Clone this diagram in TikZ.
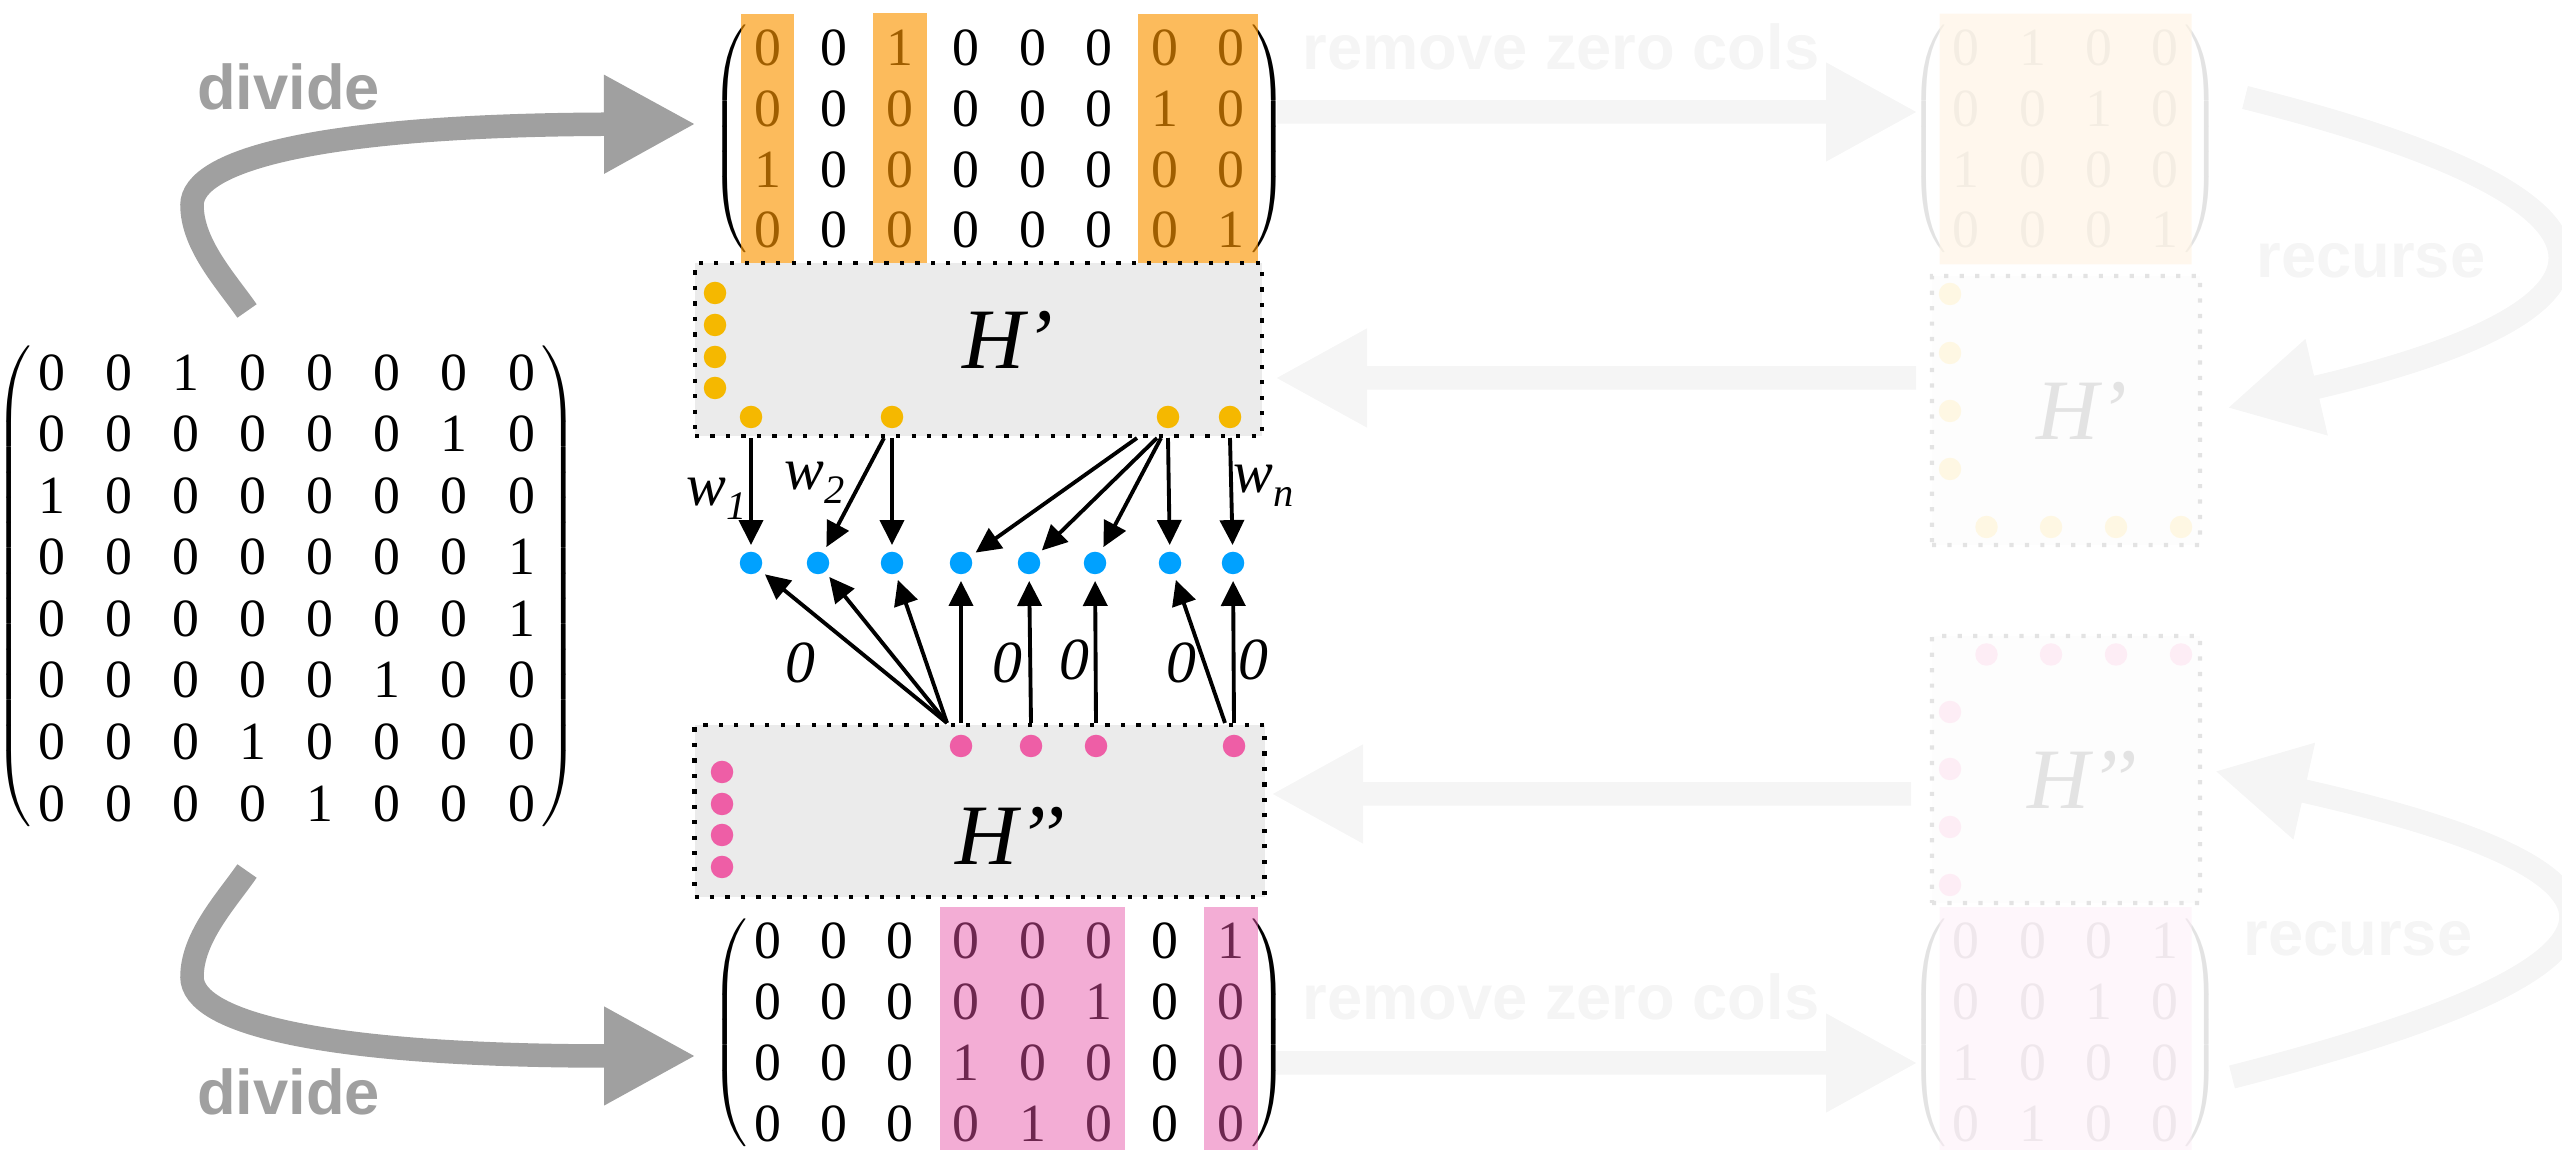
\documentclass[tikz,border=0pt]{standalone}
\usepackage{fontspec}
\setmainfont{Liberation Serif}
\setsansfont{Liberation Sans}
\usepackage{exscale}
\usepackage{xcolor}
\usepackage{tikz}
\usetikzlibrary{arrows.meta,positioning,fit,matrix,calc}

\definecolor{arrgray}{RGB}{160,160,160}
\definecolor{boxgray}{RGB}{235,235,235}
\definecolor{hlorange}{RGB}{250,148,0}
\definecolor{hlpink}{RGB}{229,83,167}
\definecolor{dotorange}{RGB}{245,184,0}
\definecolor{dotblue}{RGB}{0,161,255}
\definecolor{dotpink}{RGB}{238,94,166}

\newcommand{\numfont}{\fontsize{15.3}{18}\selectfont}
\newcommand{\wsub}[2]{#1\raisebox{-0.5ex}{\fontsize{11.5}{12}\selectfont #2}}

\begin{document}
\begin{tikzpicture}[
  mat/.style={matrix of nodes, inner sep=0pt, column sep=0.362cm, row sep=0.157cm,
    nodes={inner sep=0pt, minimum width=0.3cm, minimum height=0.45cm, font=\numfont},
    left delimiter=(, right delimiter=)},
  every delimiter/.style={font=\fontsize{12}{14}\selectfont},
  hl/.style={inner sep=0.11cm, draw=none},
  hbox/.style={draw, line width=1.15pt, dash pattern=on 1.2pt off 3.2pt, fill=boxgray, inner sep=0pt},
  hname/.style={font=\itshape\fontsize{24.5}{28}\selectfont},
  dot/.style={circle, inner sep=0pt, minimum size=0.225cm, fill=#1},
  warr/.style={-{Triangle[length=0.25cm,width=0.24cm]}, line width=1.1pt, shorten >=0.06cm},
  wlbl/.style={font=\itshape\fontsize{17}{20}\selectfont},
  bigarr/.style={-{Triangle[length=0.92cm,width=0.92cm]}, line width=0.235cm, draw=arrgray},
  biglbl/.style={anchor=base, text=arrgray, font=\sffamily\bfseries\fontsize{18}{20}\selectfont}
]
\useasboundingbox (0,0) rectangle (25.62,-11.5);

% the full matrix
\matrix (big) [mat, column sep=0.371cm, row sep=0.164cm] at (2.866,-5.88) {
0 & 0 & 1 & 0 & 0 & 0 & 0 & 0 \\
0 & 0 & 0 & 0 & 0 & 0 & 1 & 0 \\
1 & 0 & 0 & 0 & 0 & 0 & 0 & 0 \\
0 & 0 & 0 & 0 & 0 & 0 & 0 & 1 \\
0 & 0 & 0 & 0 & 0 & 0 & 0 & 1 \\
0 & 0 & 0 & 0 & 0 & 1 & 0 & 0 \\
0 & 0 & 0 & 1 & 0 & 0 & 0 & 0 \\
0 & 0 & 0 & 0 & 1 & 0 & 0 & 0 \\
};

% upper half
\matrix (top) [mat] at (9.994,-1.39) {
0 & 0 & 1 & 0 & 0 & 0 & 0 & 0 \\
0 & 0 & 0 & 0 & 0 & 0 & 1 & 0 \\
1 & 0 & 0 & 0 & 0 & 0 & 0 & 0 \\
0 & 0 & 0 & 0 & 0 & 0 & 0 & 1 \\
};
\node[hl, fit=(top-1-1)(top-4-1), fill=hlorange, opacity=0.64] (topc1) {};
\node[hl, fit=(top-1-3)(top-4-3), fill=hlorange, opacity=0.64] (topc3) {};
\node[hl, fit=(top-1-7)(top-4-8), fill=hlorange, opacity=0.64] (topc78) {};

% lower half
\matrix (bot) [mat] at (9.994,-10.325) {
0 & 0 & 0 & 0 & 0 & 0 & 0 & 1 \\
0 & 0 & 0 & 0 & 0 & 1 & 0 & 0 \\
0 & 0 & 0 & 1 & 0 & 0 & 0 & 0 \\
0 & 0 & 0 & 0 & 1 & 0 & 0 & 0 \\
};
\node[hl, fit=(bot-1-4)(bot-4-6), fill=hlpink, opacity=0.48] (botc46) {};
\node[hl, fit=(bot-1-8)(bot-4-8), fill=hlpink, opacity=0.48] (botc8) {};

% the two sub-networks
\node[hbox, minimum width=5.67cm, minimum height=1.73cm] (hp) at (9.785,-3.495) {};
\node[hname] (hpname) at (10.08,-3.40) {H’};
\node[hbox, minimum width=5.7cm, minimum height=1.72cm] (hpp) at (9.795,-8.11) {};
\node[hname] (hppname) at (10.10,-8.36) {H’’};

\foreach \i/\y in {1/-2.93,2/-3.25,3/-3.57,4/-3.88}
  \node[dot=dotorange] (o\i) at (7.15,\y) {};
\foreach \i/\x in {5/7.51,6/8.92,7/11.68,8/12.30}
  \node[dot=dotorange] (o\i) at (\x,-4.17) {};
\foreach \i/\x in {1/9.61,2/10.31,3/10.96,4/12.34}
  \node[dot=dotpink] (p\i) at (\x,-7.46) {};
\foreach \i/\y in {5/-7.72,6/-8.04,7/-8.35,8/-8.67}
  \node[dot=dotpink] (p\i) at (7.22,\y) {};
\foreach \i/\x in {1/7.51,2/8.18,3/8.92,4/9.61,5/10.29,6/10.95,7/11.70,8/12.33}
  \node[dot=dotblue] (b\i) at (\x,-5.63) {};

% weighted edges
\draw[warr] (o5 |- hp.south) -- (b1);
\draw[warr] ($(o6 |- hp.south)+(-0.08,0)$) -- (b2);
\draw[warr] (o6 |- hp.south) -- (b3);
\foreach \j/\dx in {4/-0.31,5/-0.11,6/-0.07,7/0}
  \draw[warr] ($(o7 |- hp.south)+(\dx,0)$) -- (b\j);
\draw[warr] (o8 |- hp.south) -- (b8);
\foreach \j in {1,...,3}
  \draw[warr] ($(p1 |- hpp.north)+(-0.14,0)$) -- (b\j);
\draw[warr] (p1 |- hpp.north) -- (b4);
\draw[warr] (p2 |- hpp.north) -- (b5);
\draw[warr] (p3 |- hpp.north) -- (b6);
\draw[warr] ($(p4 |- hpp.north)+(-0.09,0)$) -- (b7);
\draw[warr] (p4 |- hpp.north) -- (b8);

\node[wlbl] (w1) at (7.17,-4.99) {\wsub{w}{1}};
\node[wlbl] (w2) at (8.15,-4.83) {\wsub{w}{2}};
\node[wlbl] (wn) at (12.64,-4.86) {\wsub{w}{n}};
\foreach \k/\x/\y in {1/8.00/-6.63,2/10.075/-6.63,3/10.74/-6.60,4/11.81/-6.63,5/12.535/-6.60}
  \node[wlbl] (z\k) at (\x,\y) {0};

% divide arrows
\coordinate (dv1s) at (2.47,-3.11);
\coordinate (dv1e) at (6.96,-1.24);
\coordinate (dv2s) at (2.47,-8.71);
\coordinate (dv2e) at (6.96,-10.56);
\draw[bigarr] (dv1s) .. controls (2.27,-2.82) and (1.92,-2.45) .. (1.92,-2.05)
  .. controls (1.92,-1.6) and (3.2,-1.25) .. (dv1e);
\draw[bigarr] (dv2s) .. controls (2.27,-9.0) and (1.92,-9.37) .. (1.92,-9.77)
  .. controls (1.92,-10.22) and (3.2,-10.56) .. (dv2e);
\node[biglbl] (dvl1) at (2.885,-1.10) {divide};
\node[biglbl] (dvl2) at (2.885,-11.15) {divide};

% the recursive step, faded
\begin{scope}[transparency group, opacity=0.11]
\matrix (ftop) [mat] at (20.657,-1.39) {
0 & 1 & 0 & 0 \\
0 & 0 & 1 & 0 \\
1 & 0 & 0 & 0 \\
0 & 0 & 0 & 1 \\
};
\node[hl, fit=(ftop-1-1)(ftop-4-4), fill=hlorange, opacity=0.64] (ftopc) {};
\matrix (fbot) [mat] at (20.657,-10.325) {
0 & 0 & 0 & 1 \\
0 & 0 & 1 & 0 \\
1 & 0 & 0 & 0 \\
0 & 1 & 0 & 0 \\
};
\node[hl, fit=(fbot-1-1)(fbot-4-4), fill=hlpink, opacity=0.48] (fbotc) {};

\node[hbox, minimum width=2.68cm, minimum height=2.69cm] (fhp) at (20.66,-4.105) {};
\node[hname] (fhpname) at (20.82,-4.11) {H’};
\node[hbox, minimum width=2.68cm, minimum height=2.67cm] (fhpp) at (20.66,-7.695) {};
\node[hname] (fhppname) at (20.82,-7.80) {H’’};
\foreach \i/\y in {1/-2.94,2/-3.53,3/-4.11,4/-4.69}
  \node[dot=dotorange] (fo\i) at (19.50,\y) {};
\foreach \i/\x in {5/19.865,6/20.51,7/21.16,8/21.81}
  \node[dot=dotorange] (fo\i) at (\x,-5.27) {};
\foreach \i/\x in {1/19.865,2/20.51,3/21.16,4/21.81}
  \node[dot=dotpink] (fp\i) at (\x,-6.545) {};
\foreach \i/\y in {5/-7.12,6/-7.69,7/-8.27,8/-8.85}
  \node[dot=dotpink] (fp\i) at (19.50,\y) {};

\coordinate (rz1s) at (12.77,-1.12);
\coordinate (rz1e) at (19.18,-1.12);
\coordinate (rz2s) at (12.75,-10.63);
\coordinate (rz2e) at (19.18,-10.63);
\coordinate (bk1s) at (19.16,-3.78);
\coordinate (bk1e) at (12.75,-3.78);
\coordinate (bk2s) at (19.11,-7.94);
\coordinate (bk2e) at (12.71,-7.94);
\draw[bigarr] (rz1s) -- (rz1e);
\draw[bigarr] (rz2s) -- (rz2e);
\draw[bigarr] (bk1s) -- (bk1e);
\draw[bigarr] (bk2s) -- (bk2e);
\node[biglbl] (rzl1) at (15.61,-0.70) {remove zero cols};
\node[biglbl] (rzl2) at (15.61,-10.20) {remove zero cols};

\coordinate (rc1s) at (22.45,-0.975);
\coordinate (rc1e) at (22.27,-4.08);
\coordinate (rc2s) at (22.32,-10.77);
\coordinate (rc2e) at (22.145,-7.71);
\draw[bigarr] (rc1s) .. controls (26.62,-2.015) and (26.46,-3.11) .. (rc1e);
\draw[bigarr] (rc2s) .. controls (26.80,-9.63) and (26.65,-8.72) .. (rc2e);
\node[biglbl] (rcl1) at (23.71,-2.78) {recurse};
\node[biglbl] (rcl2) at (23.58,-9.56) {recurse};
\end{scope}
\end{tikzpicture}
\end{document}
